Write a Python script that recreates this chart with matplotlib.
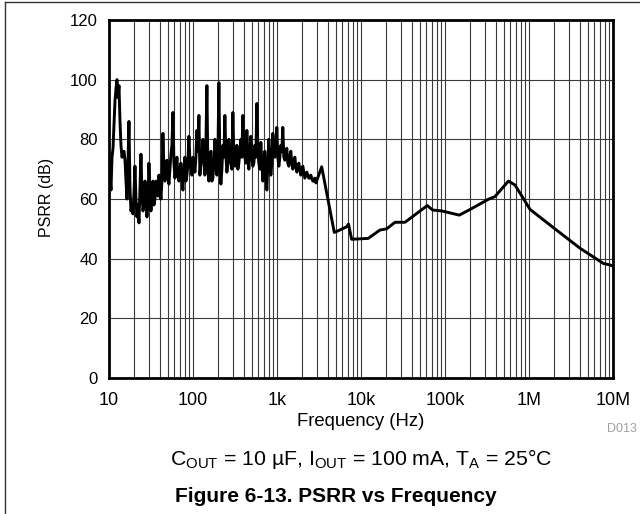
import matplotlib
matplotlib.use('Agg')
import matplotlib.pyplot as plt
from matplotlib.lines import Line2D
from matplotlib.ticker import LogLocator, FixedLocator, NullFormatter
import numpy as np

plt.rcParams['font.family'] = ['Liberation Sans', 'DejaVu Sans']
plt.rcParams['mathtext.fontset'] = 'custom'
plt.rcParams['mathtext.rm'] = 'Liberation Sans'
plt.rcParams['mathtext.it'] = 'Liberation Sans:italic'

# PSRR curve (Hz, dB)
# noisy part below ~3 kHz, read in two passes (every other pixel column each)
freq_noisy_a = [10.0, 10.56, 11.16, 11.79, 12.45, 13.15, 13.89, 14.67, 15.50, 16.37,
                17.29, 18.26, 19.29, 20.38, 21.52, 22.74, 24.02, 25.37, 26.80, 28.31,
                29.90, 31.58, 33.36, 35.24, 37.22, 39.32, 41.53, 43.87, 46.34, 48.95,
                51.70, 54.61, 57.69, 60.94, 64.37, 67.99, 71.82, 75.86, 80.13, 84.64,
                89.41, 94.44, 99.76, 105.4, 111.3, 117.6, 124.2, 131.2, 138.6, 146.4,
                154.6, 163.3, 172.5, 182.2, 192.5, 203.3, 214.8, 226.9, 239.6, 253.1,
                267.4, 282.4, 298.3, 315.1, 332.9, 351.6, 371.4, 392.3, 414.4, 437.7,
                462.4, 488.4, 515.9, 545.0, 575.6, 608.0, 642.3, 678.5, 716.7, 757.0,
                799.6, 844.7, 892.2, 942.5, 995.5, 1052, 1111, 1173, 1239, 1309,
                1383, 1461, 1543, 1630, 1722, 1819, 1921, 2029, 2144, 2264,
                2392, 2526, 2669, 2819]
psrr_noisy_a = [72, 63, 77, 93, 100, 98, 78, 75, 73, 60,
                86, 56, 55, 71, 54, 52, 75, 56, 66, 54,
                72, 56, 66, 60, 64, 68, 60, 82, 66, 73,
                65, 75, 89, 67, 74, 66, 72, 63, 74, 68,
                81, 70, 74, 69, 83, 88, 72, 80, 68, 98,
                66, 76, 67, 80, 68, 99, 65, 78, 88, 69,
                80, 72, 89, 71, 78, 72, 80, 88, 74, 83,
                70, 81, 71, 78, 92, 72, 79, 66, 76, 63,
                80, 68, 82, 74, 84, 71, 78, 84, 73, 77,
                71, 76, 70, 74, 69, 72, 68, 71, 67, 69,
                67, 68, 66, 67]

freq_noisy_b = [10.28, 10.86, 11.47, 12.12, 12.80, 13.52, 14.28, 15.08, 15.93, 16.82,
                17.77, 18.77, 19.83, 20.94, 22.12, 23.37, 24.68, 26.07, 27.54, 29.09,
                30.73, 32.46, 34.28, 36.21, 38.25, 40.40, 42.68, 45.08, 47.61, 50.29,
                53.13, 56.12, 59.28, 62.61, 66.14, 69.86, 73.80, 77.95, 82.34, 86.97,
                91.87, 97.04, 102.5, 108.3, 114.4, 120.8, 127.6, 134.8, 142.4, 150.4,
                158.9, 167.8, 177.3, 187.3, 197.8, 208.9, 220.7, 233.1, 246.2, 260.1,
                274.7, 290.2, 306.6, 323.8, 342.0, 361.3, 381.6, 403.1, 425.8, 449.8,
                475.2, 501.9, 530.2, 560.0, 591.6, 624.9, 660.1, 697.3, 736.5, 778.0,
                821.8, 868.1, 916.9, 968.6, 1023, 1081, 1142, 1206, 1274, 1346,
                1421, 1501, 1586, 1675, 1769, 1869, 1974, 2085, 2203, 2327,
                2458, 2596, 2742]
psrr_noisy_b = [68, 74, 85, 97, 94, 86, 74, 76, 66, 72,
                64, 58, 62, 60, 58, 64, 62, 58, 62, 60,
                63, 61, 58, 66, 61, 64, 66, 70, 69, 68,
                70, 78, 72, 70, 68, 70, 67, 70, 66, 72,
                73, 68, 72, 74, 76, 68, 74, 72, 78, 70,
                72, 66, 72, 72, 74, 72, 70, 74, 75, 72,
                74, 70, 74, 74, 70, 76, 74, 78, 72, 74,
                76, 74, 72, 74, 76, 70, 72, 70, 68, 72,
                74, 72, 76, 78, 74, 74, 76, 74, 75, 72,
                74, 72, 72, 71, 70, 70, 69, 69, 68, 68,
                67, 67, 66]

freq_smooth = [2911, 3404, 4808, 5300, 6760, 7100, 7740, 12200, 16800, 20200,
               25400, 33400, 61500, 71300, 91400, 148000, 199000, 328000, 393000, 568000,
               681000, 1030000, 1180000, 1950000, 4050000, 7670000, 9200000, 10000000]
psrr_smooth = [65.4, 70.8, 48.8, 49.3, 50.7, 51.6, 46.5, 46.8, 49.6, 50.0,
               52.2, 52.2, 57.8, 56.3, 56.0, 54.6, 56.5, 59.9, 60.8, 66.0,
               64.7, 56.5, 55.2, 50.4, 43.5, 38.4, 37.9, 37.5]

x_ticks = [10, 100, 1e3, 1e4, 1e5, 1e6, 1e7]
x_tick_labels = ['10', '100', '1k', '10k', '100k', '1M', '10M']
y_ticks = [0, 20, 40, 60, 80, 100, 120]

# merge the two noisy passes in frequency order, then the smooth tail
freq = np.array(freq_noisy_a + freq_noisy_b + freq_smooth)
psrr = np.array(psrr_noisy_a + psrr_noisy_b + psrr_smooth)
order = np.argsort(freq)
freq, psrr = freq[order], psrr[order]

fig = plt.figure(figsize=(6.4, 5.14), dpi=100)
ax = fig.add_axes([109 / 640, 1 - 378 / 514, 504 / 640, 358 / 514])

ax.set_xscale('log')
ax.set_xlim(10, 1e7)
ax.set_ylim(0, 120)

# grid: every decade and every minor step in between
ax.xaxis.set_major_locator(FixedLocator(x_ticks))
ax.set_xticklabels(x_tick_labels)
ax.xaxis.set_minor_locator(LogLocator(base=10, subs=np.arange(2, 10)))
ax.xaxis.set_minor_formatter(NullFormatter())
ax.set_yticks(y_ticks)
ax.grid(True, which='both', axis='x', color='#3a3a3a', linewidth=0.8)
ax.grid(True, which='major', axis='y', color='#3a3a3a', linewidth=0.8)
ax.set_axisbelow(True)

ax.plot(freq, psrr, color='black', linewidth=2.1, solid_joinstyle='round')

for s in ax.spines.values():
    s.set_linewidth(2.0)
    s.set_color('black')
ax.tick_params(axis='both', which='both', length=0, colors='black')
ax.tick_params(axis='x', pad=10, labelsize=13)
ax.tick_params(axis='y', pad=8, labelsize=12)

fig.text(361 / 640, 1 - 421 / 514, 'Frequency (Hz)', ha='center', va='center', fontsize=13.3)
fig.text(47 / 640, 1 - 197 / 514, 'PSRR (dB)', ha='center', va='center', rotation=90, fontsize=11.5)
fig.text(622 / 640, 1 - 429 / 514, 'D013', ha='center', va='center', fontsize=9, color='#a0a0a0')
fig.text(361 / 640, 1 - 459 / 514,
         r'C$_{\mathrm{OUT}}$ = 10 µF, I$_{\mathrm{OUT}}$ = 100 mA, T$_{\mathrm{A}}$ = 25°C',
         ha='center', va='center', fontsize=15.3)
fig.text(336 / 640, 1 - 496 / 514, 'Figure 6-13. PSRR vs Frequency', ha='center', va='center',
         fontsize=15, fontweight='bold')

# frame around the figure (top and left edges only)
fig.add_artist(Line2D([5 / 640, 1.0], [1 - 2 / 514, 1 - 2 / 514], color='#333333', linewidth=1.0))
fig.add_artist(Line2D([5 / 640, 5 / 640], [0.0, 1 - 2 / 514], color='#333333', linewidth=1.0))

fig.savefig('out.png', dpi=100)
